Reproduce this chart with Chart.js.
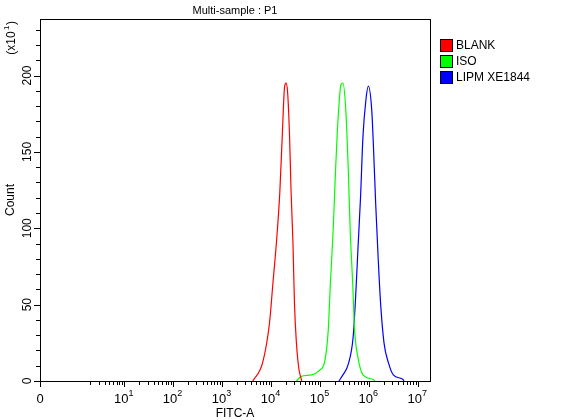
<!DOCTYPE html>
<html>
<head>
<meta charset="utf-8">
<script src="https://cdn.jsdelivr.net/npm/chart.js@4"></script>
<style>
  body { margin: 0; background: #fff; }
  #wrap { width: 566px; height: 420px; }
</style>
</head>
<body>
<div id="wrap"><canvas id="c" width="566" height="420"></canvas></div>
<script>
// x values are in decades (log10 of FITC-A); "0" sits left of 10^1
const zeroPos = -0.72;
const xMax = 7.25;
const decades = [1, 2, 3, 4, 5, 6, 7];
const yLabels = [0, 50, 100, 150, 200];

const blankX = [3.63, 3.83, 3.97, 4.04, 4.11, 4.18, 4.23, 4.28, 4.31, 4.34, 4.38, 4.41, 4.45, 4.48, 4.52, 4.57, 4.63];
const blankY = [0, 12, 38, 64, 90, 123, 160, 193, 195, 189, 160, 125, 90, 51, 25, 8, 0];

const isoX = [4.52, 4.62, 4.83, 4.99, 5.10, 5.17, 5.21, 5.27, 5.32, 5.37, 5.43, 5.47, 5.53, 5.58, 5.62, 5.67, 5.71, 5.78, 5.88, 6.09, 6.12];
const isoY = [0, 3, 4, 7, 13, 33, 61, 98, 138, 171, 194, 195, 177, 138, 98, 64, 33, 15, 4, 1, 0];

const lipmX = [5.39, 5.47, 5.58, 5.68, 5.73, 5.78, 5.83, 5.88, 5.94, 5.99, 6.06, 6.10, 6.14, 6.19, 6.24, 6.31, 6.40, 6.50, 6.70, 6.72];
const lipmY = [0, 4, 11, 29, 55, 88, 120, 160, 184, 193, 177, 149, 116, 81, 51, 25, 12, 4, 1, 0];

const seriesNames = ["BLANK", "ISO", "LIPM XE1844"];
const seriesColors = ["#ff0000", "#00ff00", "#0000ff"];

const FONT = "Liberation Sans, Arial, sans-serif";

function pts(xs, ys) { return xs.map((x, i) => ({ x: x, y: ys[i] })); }

const decor = {
  id: "decor",
  afterDraw(chart) {
    const ctx = chart.ctx;
    const a = chart.chartArea;
    const xs = chart.scales.x;
    const ys = chart.scales.y;
    ctx.save();
    ctx.strokeStyle = "#000";
    ctx.lineWidth = 1;
    ctx.strokeRect(a.left + 0.5, a.top + 0.5, a.right - a.left, a.bottom - a.top);

    // x ticks
    ctx.beginPath();
    const majors = [zeroPos].concat(decades);
    majors.forEach(u => {
      const p = Math.round(xs.getPixelForValue(u)) + 0.5;
      ctx.moveTo(p, a.bottom); ctx.lineTo(p, a.bottom + 6);
    });
    for (let d = 0; d < 7; d++) {
      for (let k = 2; k <= 9; k++) {
        const u = d + Math.log10(k);
        if (u > xMax) continue;
        const p = Math.round(xs.getPixelForValue(u)) + 0.5;
        ctx.moveTo(p, a.bottom); ctx.lineTo(p, a.bottom + 4);
      }
    }
    // y ticks every 10
    for (let v = 0; v <= 230; v += 10) {
      const p = Math.round(ys.getPixelForValue(v)) + 0.5;
      ctx.moveTo(a.left, p); ctx.lineTo(a.left - (v % 50 === 0 ? 6 : 4), p);
    }
    ctx.stroke();

    ctx.fillStyle = "#000";
    // y labels, rotated
    ctx.font = "12px " + FONT;
    ctx.textAlign = "center";
    ctx.textBaseline = "alphabetic";
    yLabels.forEach(v => {
      ctx.save();
      ctx.translate(31, ys.getPixelForValue(v));
      ctx.rotate(-Math.PI / 2);
      ctx.fillText(String(v), 0, 0);
      ctx.restore();
    });

    // x labels with superscripts
    ctx.font = "13px " + FONT;
    ctx.fillText("0", xs.getPixelForValue(zeroPos), a.bottom + 22);
    decades.forEach(d => {
      const p = xs.getPixelForValue(d);
      ctx.font = "13px " + FONT;
      const w = ctx.measureText("10").width;
      ctx.textAlign = "left";
      ctx.fillText("10", p - w / 2 - 3, a.bottom + 22);
      ctx.font = "9px " + FONT;
      ctx.fillText(String(d), p + w / 2 - 3, a.bottom + 15);
    });
    ctx.font = "12px " + FONT;
    ctx.textAlign = "center";
    ctx.fillText("FITC-A", (a.left + a.right) / 2, a.bottom + 36);

    // title
    ctx.font = "11px " + FONT;
    ctx.fillText("Multi-sample : P1", (a.left + a.right) / 2, 14);

    // y titles
    ctx.save();
    ctx.translate(14, (a.top + a.bottom) / 2);
    ctx.rotate(-Math.PI / 2);
    ctx.font = "12px " + FONT;
    ctx.fillText("Count", 0, 0);
    ctx.restore();
    ctx.save();
    ctx.translate(15, 40);
    ctx.rotate(-Math.PI / 2);
    ctx.font = "12px " + FONT;
    ctx.textAlign = "center";
    ctx.fillText("(x10", -3, 0);
    ctx.font = "8px " + FONT;
    ctx.textAlign = "left";
    ctx.fillText("1", 10, -6);
    ctx.font = "12px " + FONT;
    ctx.fillText(")", 15, 0);
    ctx.restore();

    // legend
    ctx.font = "12px " + FONT;
    ctx.textAlign = "left";
    ctx.textBaseline = "middle";
    seriesNames.forEach((n, i) => {
      const y = 45 + i * 16;
      ctx.fillStyle = seriesColors[i];
      ctx.fillRect(440, y - 6, 12, 12);
      ctx.strokeStyle = "#000";
      ctx.strokeRect(440.5, y - 5.5, 12, 12);
      ctx.fillStyle = "#000";
      ctx.fillText(n, 456, y + 1);
    });
    ctx.restore();
  }
};

new Chart(document.getElementById("c"), {
  type: "line",
  data: {
    datasets: [
      { label: seriesNames[0], data: pts(blankX, blankY) },
      { label: seriesNames[1], data: pts(isoX, isoY) },
      { label: seriesNames[2], data: pts(lipmX, lipmY) }
    ].map((d, i) => Object.assign(d, {
      borderColor: seriesColors[i], borderWidth: 1.2, pointRadius: 0,
      cubicInterpolationMode: "monotone", fill: false
    }))
  },
  options: {
    responsive: false,
    animation: false,
    layout: { padding: { top: 19, right: 136, bottom: 0, left: 0 } },
    plugins: { legend: { display: false }, tooltip: { enabled: false } },
    scales: {
      x: {
        type: "linear", min: zeroPos, max: xMax,
        grid: { display: false }, border: { display: false },
        ticks: { display: false },
        afterFit(s) { s.height = 39; }
      },
      y: {
        min: 0, max: 237,
        grid: { display: false }, border: { display: false },
        ticks: { display: false },
        afterFit(s) { s.width = 40; }
      }
    }
  },
  plugins: [decor]
});
</script>
</body>
</html>
